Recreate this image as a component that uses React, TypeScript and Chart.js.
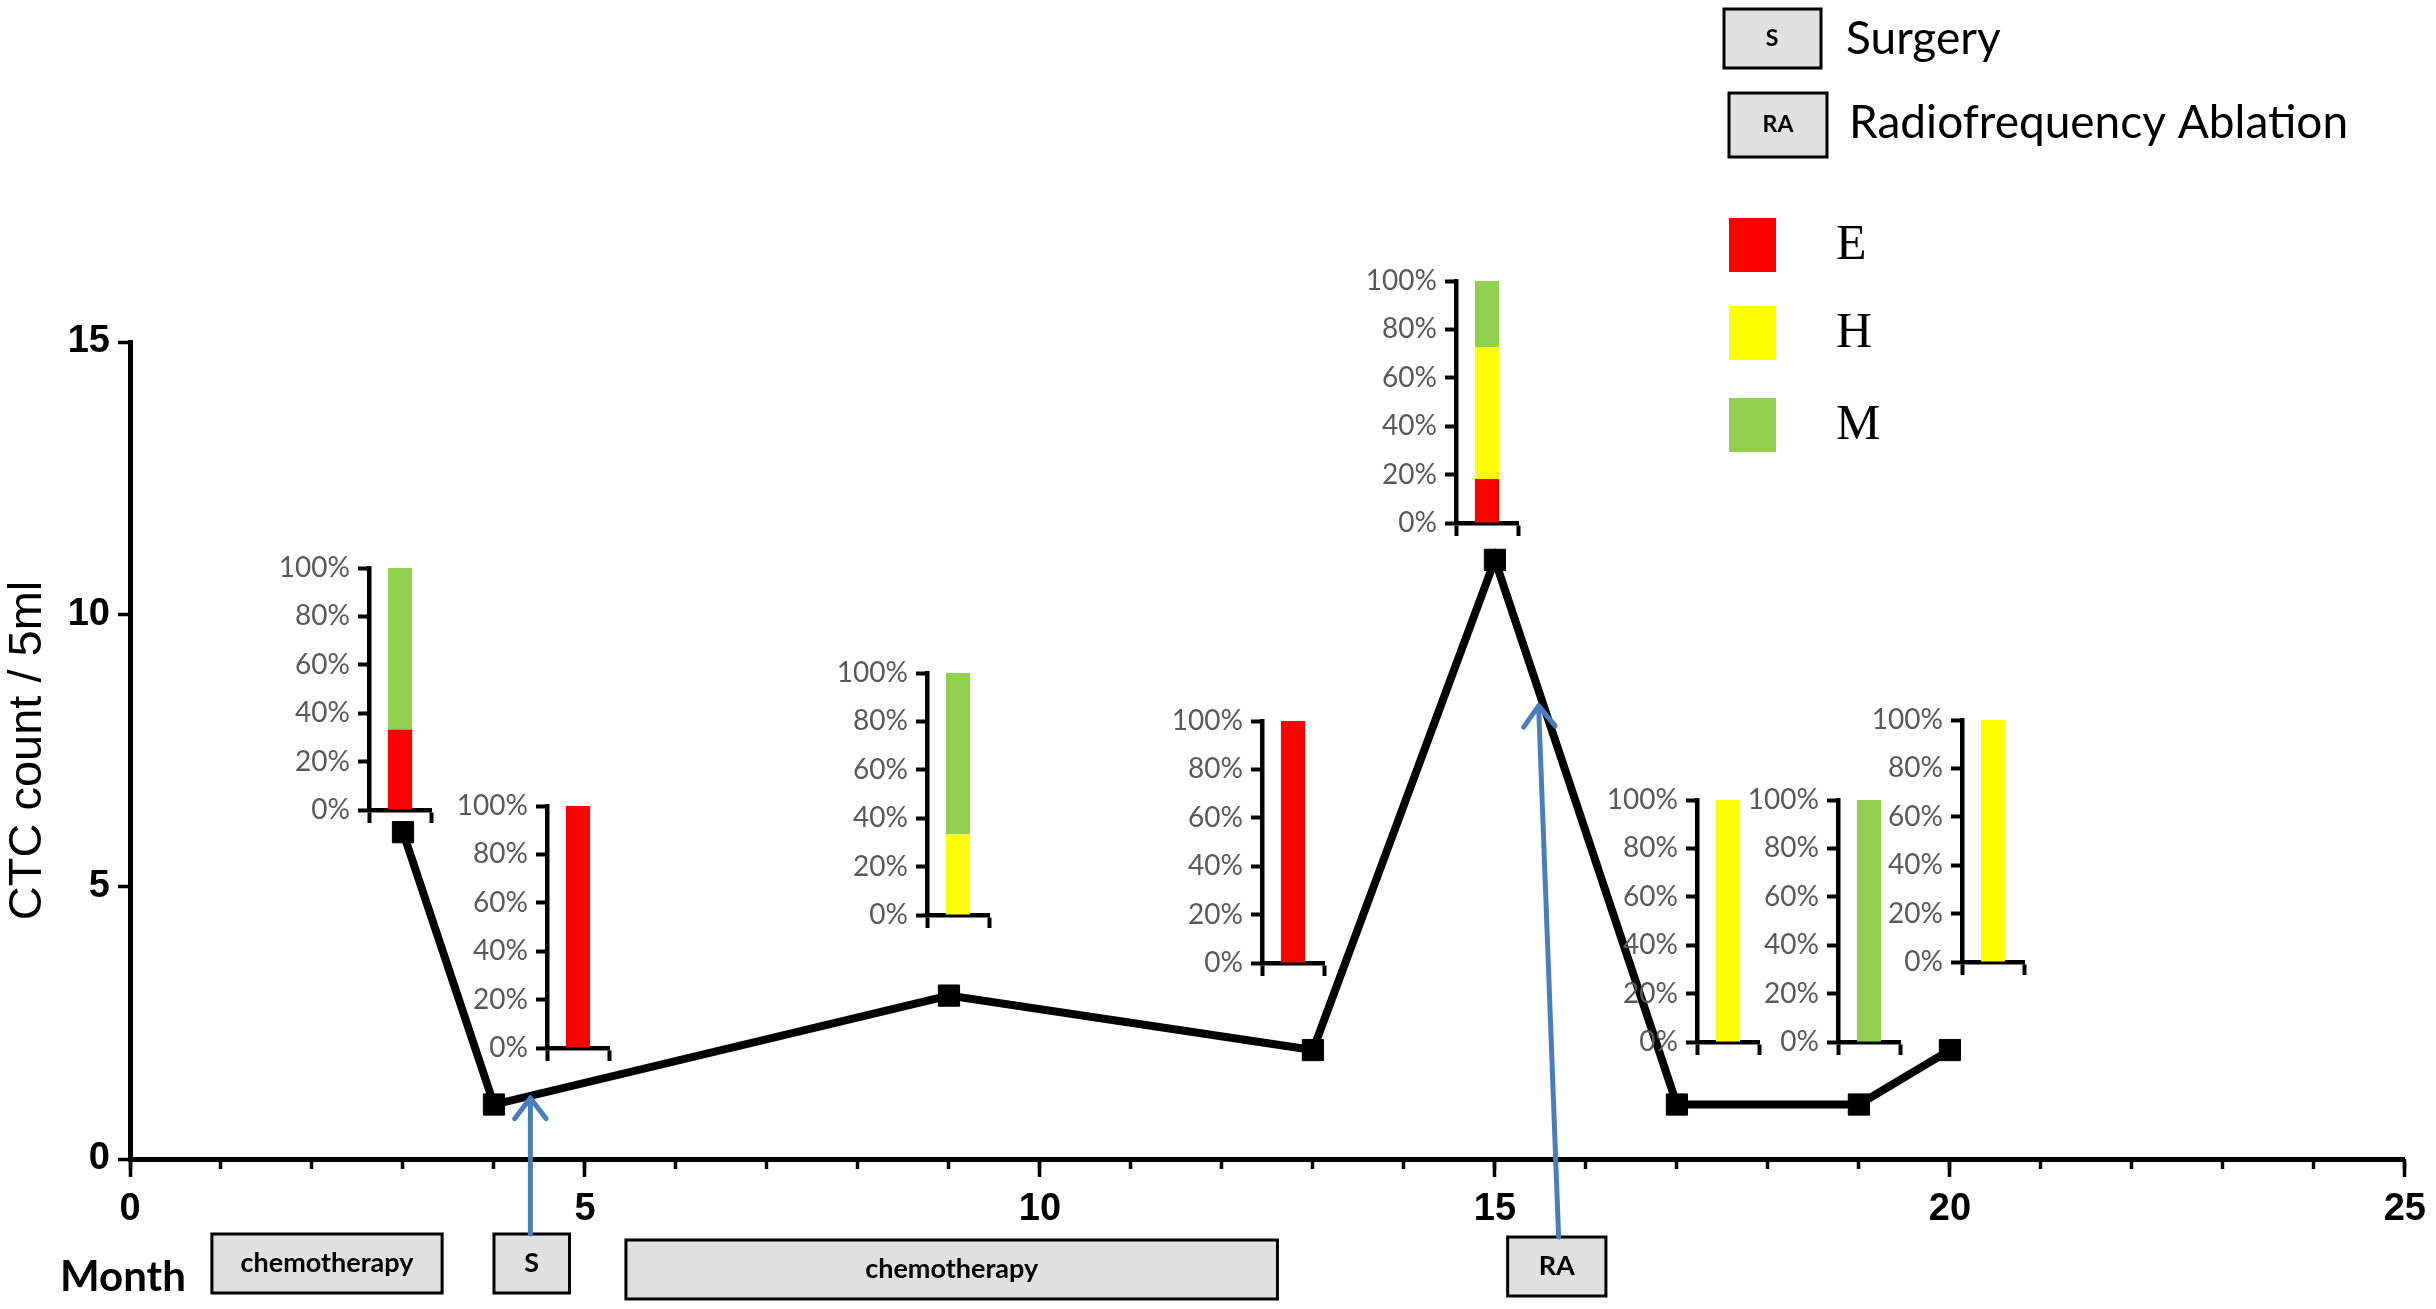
import React, { useEffect, useRef } from 'react';
import { Chart, registerables } from 'chart.js';

Chart.register(...registerables);

// CTC counts per sampling month
const months = [3, 4, 9, 13, 15, 17, 19, 20];
const ctcCounts = [6, 1, 3, 2, 11, 1, 1, 2];

// phenotype share (%) at each sampling point
const epithelial = [33.3, 100, 0, 100, 18.2, 0, 0, 0];
const hybrid = [0, 0, 33.3, 0, 54.5, 100, 0, 100];
const mesenchymal = [66.7, 0, 66.7, 0, 27.3, 0, 100, 0];

const phenotypeLabels = ['E', 'H', 'M'];
const phenotypeColors = ['#ff0000', '#ffff00', '#92d050'];

// treatments on the month axis
const treatmentLabels = ['chemotherapy', 'S', 'chemotherapy', 'RA'];
const treatmentStart = [0.9, 4.0, 5.45, 15.14];
const treatmentEnd = [3.43, 4.83, 12.61, 16.22];

// arrows from a treatment box up to the curve
const arrowBox = [1, 3];
const arrowFromMonth = [4.4, 15.7];
const arrowToMonth = [4.4, 15.48];
const arrowToValue = [1.12, 8.32];

// layout (pixels)
const W = 2436;
const H = 1309;
const treatmentTops = [1234, 1234, 1240, 1237];
const treatmentHeight = 59;
const insetAnchors = [
  [369, 568],
  [547, 806],
  [927, 673],
  [1262, 721],
  [1456, 281],
  [1697, 800],
  [1838, 800],
  [1962, 720],
];
const INSET_AXIS_W = 100;
const INSET_PAD_TOP = 26;
const INSET_PLOT_H = 242;
const INSET_PLOT_W = 62;

const drawBox = (ctx: CanvasRenderingContext2D, x: number, y: number, w: number, h: number) => {
  ctx.fillStyle = '#e0e0e0';
  ctx.fillRect(x, y, w, h);
  ctx.lineWidth = 3;
  ctx.strokeStyle = '#000';
  ctx.strokeRect(x, y, w, h);
};

const annotations = {
  id: 'annotations',
  afterDraw(chart: Chart) {
    const ctx = chart.ctx;
    const xs = chart.scales.x;
    const ys = chart.scales.y;
    ctx.save();

    // treatment boxes under the axis
    treatmentLabels.forEach((label, i) => {
      const x1 = xs.getPixelForValue(treatmentStart[i]);
      const x2 = xs.getPixelForValue(treatmentEnd[i]);
      const top = treatmentTops[i];
      drawBox(ctx, x1, top, x2 - x1, treatmentHeight);
      ctx.fillStyle = '#000';
      ctx.font = 'bold 27px Lato';
      ctx.textAlign = 'center';
      ctx.textBaseline = 'middle';
      ctx.fillText(label, (x1 + x2) / 2, top + treatmentHeight / 2);
    });

    // blue arrows
    ctx.strokeStyle = '#4a7ebb';
    ctx.lineWidth = 5;
    ctx.lineCap = 'round';
    arrowBox.forEach((b, i) => {
      const sx = xs.getPixelForValue(arrowFromMonth[i]);
      const sy = treatmentTops[b];
      const tx = xs.getPixelForValue(arrowToMonth[i]);
      const ty = ys.getPixelForValue(arrowToValue[i]);
      const ang = Math.atan2(ty - sy, tx - sx);
      ctx.beginPath();
      ctx.moveTo(sx, sy);
      ctx.lineTo(tx, ty);
      for (const d of [-0.65, 0.65]) {
        ctx.moveTo(tx, ty);
        ctx.lineTo(tx - 26 * Math.cos(ang + d), ty - 26 * Math.sin(ang + d));
      }
      ctx.stroke();
    });

    // axis caption
    ctx.fillStyle = '#000';
    ctx.font = 'bold 42px Lato';
    ctx.textAlign = 'center';
    ctx.textBaseline = 'middle';
    ctx.fillText('Month', 123, 1277);

    // legend: treatments
    drawBox(ctx, 1724, 9, 97, 59);
    drawBox(ctx, 1729, 93, 98, 64);
    ctx.fillStyle = '#000';
    ctx.font = 'bold 23px Lato';
    ctx.fillText('S', 1772, 39);
    ctx.fillText('RA', 1778, 125);
    ctx.font = '46px Lato';
    ctx.textAlign = 'left';
    ctx.fillText('Surgery', 1846, 39);
    ctx.fillText('Radiofrequency Ablation', 1849, 123);

    // legend: phenotypes
    const rows = [218, 306, 398];
    ctx.font = '50px "Liberation Serif"';
    phenotypeLabels.forEach((lab, i) => {
      ctx.fillStyle = phenotypeColors[i];
      ctx.fillRect(1729, rows[i], 47, 54);
      ctx.fillStyle = '#000';
      ctx.fillText(lab, 1836, rows[i] + 28);
    });

    ctx.restore();
  },
};

const PhenotypeInset: React.FC<{ index: number }> = ({ index }) => {
  const canvasRef = useRef<HTMLCanvasElement | null>(null);

  useEffect(() => {
    const ctx = canvasRef.current?.getContext('2d');
    if (!ctx) return;
    const shares = [epithelial, hybrid, mesenchymal];

    const chart = new Chart(ctx, {
      type: 'bar',
      data: {
        labels: [''],
        datasets: phenotypeLabels.map((lab, k) => ({
          label: lab,
          data: [shares[k][index]],
          backgroundColor: phenotypeColors[k],
          borderWidth: 0,
          barPercentage: 0.39,
          categoryPercentage: 1,
        })),
      },
      options: {
        animation: false,
        responsive: false,
        devicePixelRatio: 1,
        layout: { padding: { top: INSET_PAD_TOP, right: 10, bottom: 12, left: 0 } },
        plugins: { legend: { display: false }, tooltip: { enabled: false } },
        scales: {
          x: {
            stacked: true,
            offset: true,
            afterFit: (s: any) => { s.height = 14; },
            ticks: { display: false },
            grid: { offset: true, drawOnChartArea: false, tickLength: 13, tickWidth: 4, tickColor: '#000' },
            border: { color: '#000', width: 4.5 },
          },
          y: {
            stacked: true,
            min: 0,
            max: 100,
            afterFit: (s: any) => { s.width = INSET_AXIS_W; },
            ticks: {
              stepSize: 20,
              callback: (v: any) => `${v}%`,
              color: '#595959',
              font: { family: 'Lato', size: 28 },
              padding: 8,
            },
            grid: { drawOnChartArea: false, tickLength: 11, tickWidth: 4, tickColor: '#000' },
            border: { color: '#000', width: 4.5 },
          },
        },
      },
    });

    return () => chart.destroy();
  }, [index]);

  const [ax, ay] = insetAnchors[index];
  return (
    <canvas
      ref={canvasRef}
      width={INSET_AXIS_W + INSET_PLOT_W + 10}
      height={INSET_PAD_TOP + INSET_PLOT_H + 14 + 12}
      style={{ position: 'absolute', left: ax - INSET_AXIS_W, top: ay - INSET_PAD_TOP }}
    />
  );
};

const CtcChart: React.FC = () => {
  const canvasRef = useRef<HTMLCanvasElement | null>(null);

  useEffect(() => {
    const ctx = canvasRef.current?.getContext('2d');
    if (!ctx) return;

    const tickFont = { family: '"Liberation Sans", Arial', weight: 'bold' as const, size: 38 };

    const chart = new Chart(ctx, {
      type: 'line',
      data: {
        datasets: [
          {
            label: 'CTC count',
            data: months.map((m, i) => ({ x: m, y: ctcCounts[i] })),
            borderColor: '#000',
            borderWidth: 8,
            tension: 0,
            pointStyle: 'rect',
            pointRadius: 15,
            pointBackgroundColor: '#000',
            pointBorderColor: '#000',
            pointBorderWidth: 1,
            clip: false,
          },
        ],
      },
      options: {
        animation: false,
        responsive: false,
        devicePixelRatio: 1,
        layout: { padding: { top: 342, right: 31, bottom: 0, left: 0 } },
        plugins: { legend: { display: false }, tooltip: { enabled: false } },
        scales: {
          x: {
            type: 'linear',
            min: 0,
            max: 25,
            weight: 1,
            afterFit: (s: any) => { s.height = 150; },
            ticks: { stepSize: 5, color: '#000', font: tickFont, padding: 10 },
            grid: { drawOnChartArea: false, tickLength: 18, tickWidth: 3.5, tickColor: '#000' },
            border: { color: '#000', width: 5 },
          },
          xMinor: {
            type: 'linear',
            position: 'bottom',
            min: 0,
            max: 25,
            weight: 0,
            afterFit: (s: any) => { s.height = 0; },
            ticks: { stepSize: 1, display: false },
            grid: { drawOnChartArea: false, tickLength: 10, tickWidth: 3.5, tickColor: '#000' },
            border: { display: false },
          },
          y: {
            min: 0,
            max: 15,
            afterFit: (s: any) => { s.width = 130; },
            ticks: { stepSize: 5, color: '#000', font: tickFont, padding: 8 },
            grid: { drawOnChartArea: false, tickLength: 12, tickWidth: 3.5, tickColor: '#000' },
            border: { color: '#000', width: 5 },
            title: {
              display: true,
              text: 'CTC count / 5ml',
              color: '#000',
              font: { family: '"Liberation Sans", Arial', size: 47 },
              padding: 0,
            },
          },
        },
      },
      plugins: [annotations],
    });

    return () => chart.destroy();
  }, []);

  return (
    <div style={{ position: 'absolute', left: 0, top: 0, width: W, height: H, overflow: 'hidden', background: '#fff' }}>
      <canvas ref={canvasRef} width={W} height={H} style={{ display: 'block' }} />
      {insetAnchors.map((_, i) => (
        <PhenotypeInset key={i} index={i} />
      ))}
    </div>
  );
};

export default function App() {
  return <CtcChart />;
}
